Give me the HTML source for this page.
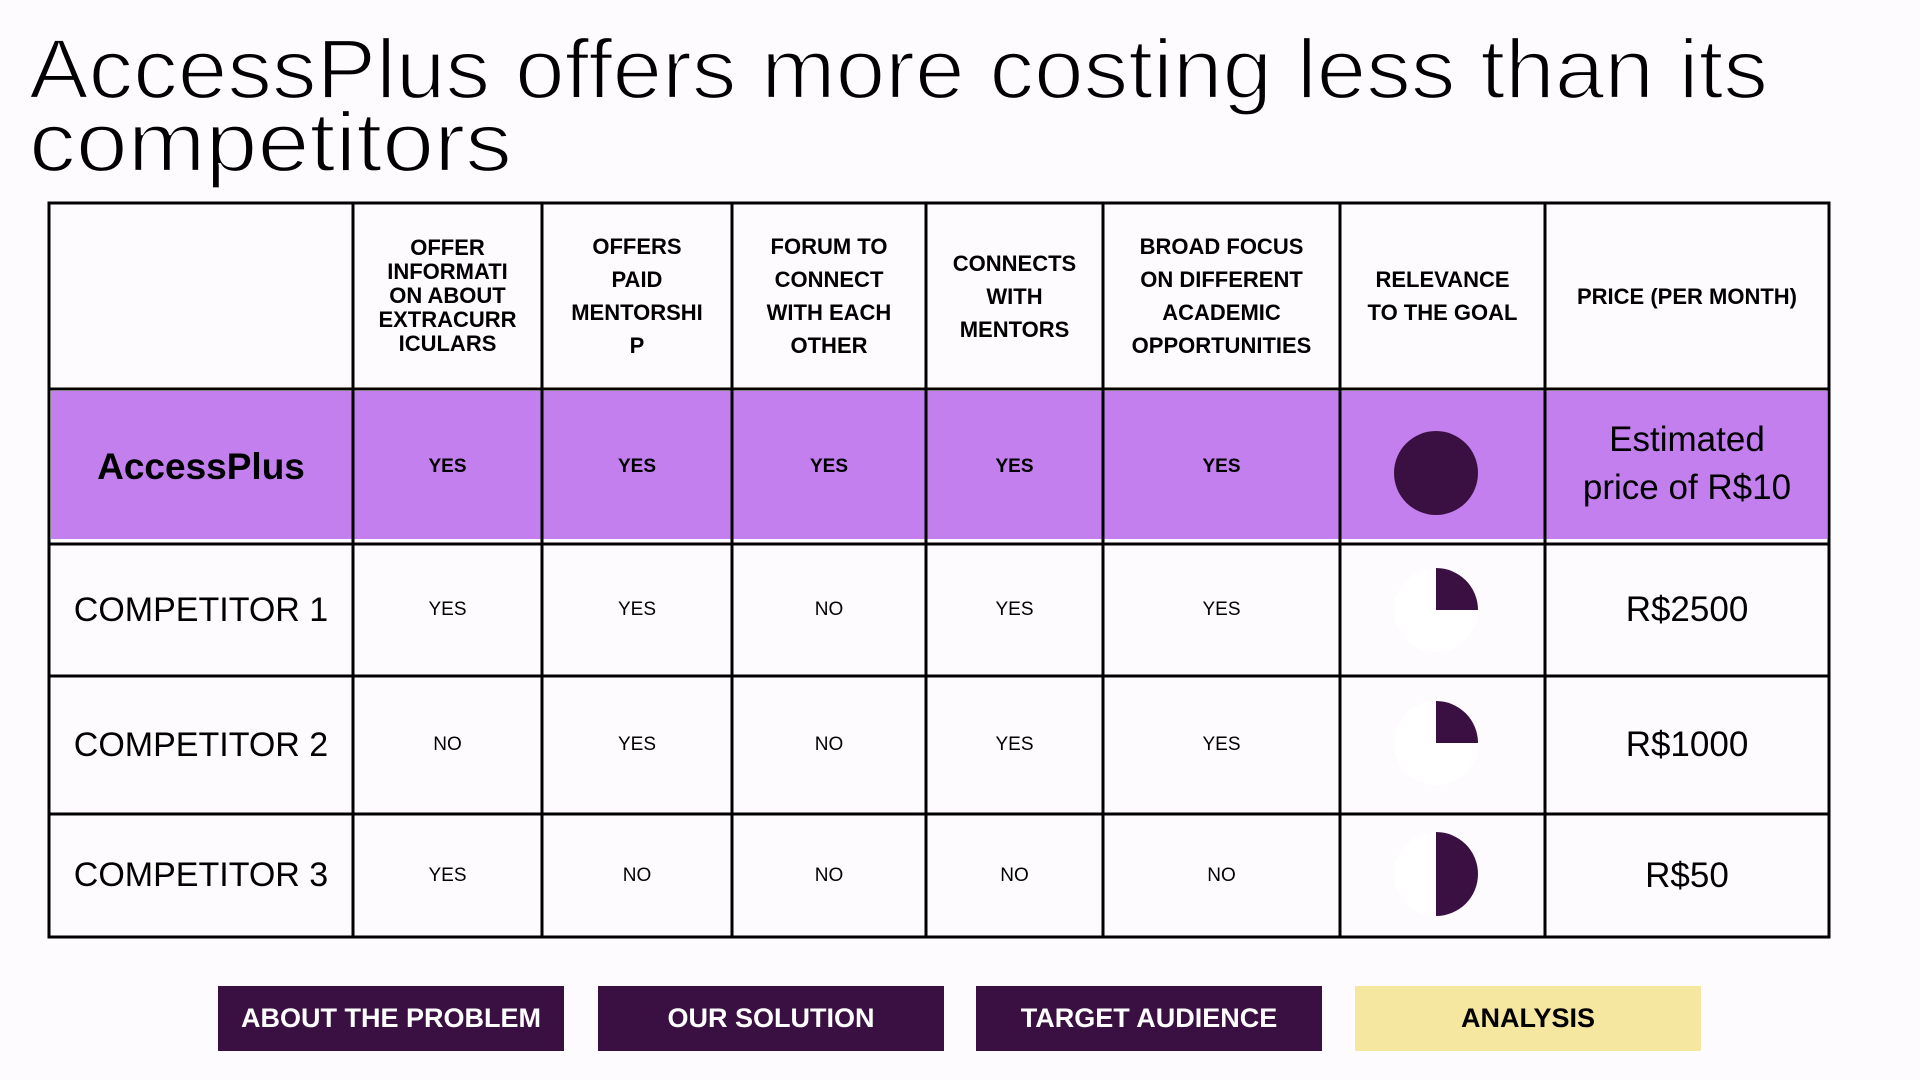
<!DOCTYPE html>
<html><head><meta charset="utf-8"><style>
html,body{margin:0;padding:0;}
body{width:1920px;height:1080px;background:#fdfbfd;position:relative;overflow:hidden;font-family:"Liberation Sans",sans-serif;color:#000;}
.abs{position:absolute;}
.c{position:absolute;display:flex;align-items:center;justify-content:center;text-align:center;}
.h{font-weight:bold;font-size:22px;line-height:33px;}
.yn{font-size:19px;}
.ynb{font-size:19px;font-weight:bold;}
.btn{position:absolute;top:986px;height:65px;width:346px;display:flex;align-items:center;justify-content:center;font-weight:bold;font-size:27px;color:#fff;background:#3a1042;}
</style></head><body>
<svg class="abs" style="left:0;top:0" width="1920" height="200">
<g font-family="Liberation Sans, sans-serif" font-size="84" fill="#000" stroke="#fdfbfd" stroke-width="2.2">
<text x="29" y="98" textLength="1739" lengthAdjust="spacingAndGlyphs">AccessPlus offers more costing less than its</text>
<text x="29" y="171" textLength="483" lengthAdjust="spacingAndGlyphs">competitors</text>
</g>
</svg>
<div class="abs" style="left:51px;top:391px;width:1776px;height:148px;background:#c27fed"></div>
<svg class="abs" style="left:0;top:0" width="1920" height="1080">
<g stroke="#000" stroke-width="3" fill="none">
<rect x="49" y="203" width="1780" height="734"/>
<line x1="353" y1="203" x2="353" y2="937"/>
<line x1="542" y1="203" x2="542" y2="937"/>
<line x1="732" y1="203" x2="732" y2="937"/>
<line x1="926" y1="203" x2="926" y2="937"/>
<line x1="1103" y1="203" x2="1103" y2="937"/>
<line x1="1340" y1="203" x2="1340" y2="937"/>
<line x1="1545" y1="203" x2="1545" y2="937"/>
<line x1="49" y1="389" x2="1829" y2="389"/>
<line x1="49" y1="544" x2="1829" y2="544"/>
<line x1="49" y1="676" x2="1829" y2="676"/>
<line x1="49" y1="814" x2="1829" y2="814"/>
</g>
<circle cx="1436" cy="473" r="42" fill="#3a1042"/>
<circle cx="1436" cy="610" r="42" fill="#fff"/>
<path d="M1436 610 L1436 568 A42 42 0 0 1 1478 610 Z" fill="#3a1042"/>
<circle cx="1436" cy="743" r="42" fill="#fff"/>
<path d="M1436 743 L1436 701 A42 42 0 0 1 1478 743 Z" fill="#3a1042"/>
<circle cx="1436" cy="874" r="42" fill="#fff"/>
<path d="M1436 874 L1436 832 A42 42 0 0 1 1436 916 Z" fill="#3a1042"/>
</svg>
<div class="c h" style="left:353px;top:203px;width:189px;height:186px;line-height:24px">OFFER<br>INFORMATI<br>ON ABOUT<br>EXTRACURR<br>ICULARS</div>
<div class="c h" style="left:542px;top:203px;width:190px;height:186px">OFFERS<br>PAID<br>MENTORSHI<br>P</div>
<div class="c h" style="left:732px;top:203px;width:194px;height:186px">FORUM TO<br>CONNECT<br>WITH EACH<br>OTHER</div>
<div class="c h" style="left:926px;top:203px;width:177px;height:186px">CONNECTS<br>WITH<br>MENTORS</div>
<div class="c h" style="left:1103px;top:203px;width:237px;height:186px">BROAD FOCUS<br>ON DIFFERENT<br>ACADEMIC<br>OPPORTUNITIES</div>
<div class="c h" style="left:1340px;top:203px;width:205px;height:186px">RELEVANCE<br>TO THE GOAL</div>
<div class="c h" style="left:1545px;top:203px;width:284px;height:186px">PRICE (PER MONTH)</div>
<div class="c" style="left:49px;top:389px;width:304px;height:155px;font-weight:bold;font-size:37px">AccessPlus</div>
<div class="c ynb" style="left:353px;top:389px;width:189px;height:155px">YES</div>
<div class="c ynb" style="left:542px;top:389px;width:190px;height:155px">YES</div>
<div class="c ynb" style="left:732px;top:389px;width:194px;height:155px">YES</div>
<div class="c ynb" style="left:926px;top:389px;width:177px;height:155px">YES</div>
<div class="c ynb" style="left:1103px;top:389px;width:237px;height:155px">YES</div>
<div class="c" style="left:1545px;top:389px;width:284px;height:150px;font-size:35px;line-height:48px">Estimated<br>price of R$10</div>
<div class="c" style="left:49px;top:544px;width:304px;height:132px;font-size:34px">COMPETITOR 1</div>
<div class="c yn" style="left:353px;top:544px;width:189px;height:132px">YES</div>
<div class="c yn" style="left:542px;top:544px;width:190px;height:132px">YES</div>
<div class="c yn" style="left:732px;top:544px;width:194px;height:132px">NO</div>
<div class="c yn" style="left:926px;top:544px;width:177px;height:132px">YES</div>
<div class="c yn" style="left:1103px;top:544px;width:237px;height:132px">YES</div>
<div class="c" style="left:1545px;top:544px;width:284px;height:132px;font-size:35px">R$2500</div>
<div class="c" style="left:49px;top:676px;width:304px;height:138px;font-size:34px">COMPETITOR 2</div>
<div class="c yn" style="left:353px;top:676px;width:189px;height:138px">NO</div>
<div class="c yn" style="left:542px;top:676px;width:190px;height:138px">YES</div>
<div class="c yn" style="left:732px;top:676px;width:194px;height:138px">NO</div>
<div class="c yn" style="left:926px;top:676px;width:177px;height:138px">YES</div>
<div class="c yn" style="left:1103px;top:676px;width:237px;height:138px">YES</div>
<div class="c" style="left:1545px;top:676px;width:284px;height:138px;font-size:35px">R$1000</div>
<div class="c" style="left:49px;top:814px;width:304px;height:123px;font-size:34px">COMPETITOR 3</div>
<div class="c yn" style="left:353px;top:814px;width:189px;height:123px">YES</div>
<div class="c yn" style="left:542px;top:814px;width:190px;height:123px">NO</div>
<div class="c yn" style="left:732px;top:814px;width:194px;height:123px">NO</div>
<div class="c yn" style="left:926px;top:814px;width:177px;height:123px">NO</div>
<div class="c yn" style="left:1103px;top:814px;width:237px;height:123px">NO</div>
<div class="c" style="left:1545px;top:814px;width:284px;height:123px;font-size:35px">R$50</div>
<div class="btn" style="left:218px">ABOUT THE PROBLEM</div>
<div class="btn" style="left:598px">OUR SOLUTION</div>
<div class="btn" style="left:976px">TARGET AUDIENCE</div>
<div class="btn" style="left:1355px;background:#f5e6a0;color:#000">ANALYSIS</div>
</body></html>
